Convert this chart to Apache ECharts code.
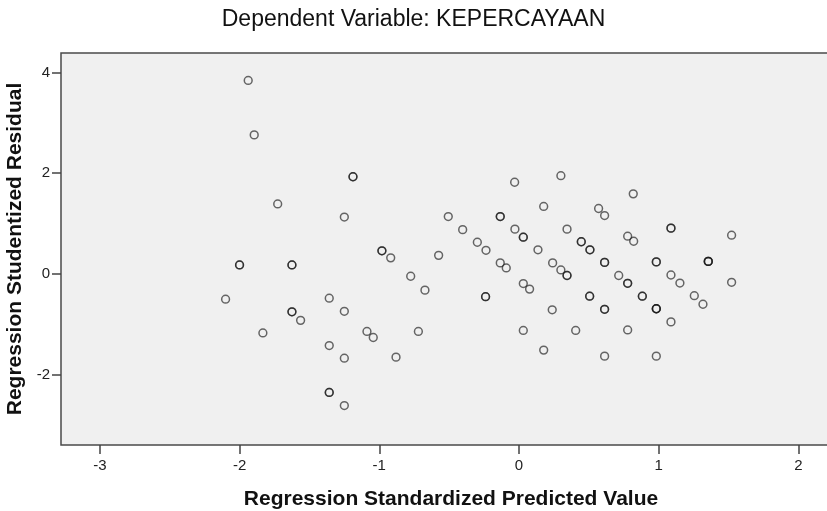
<!DOCTYPE html>
<html>
<head>
<meta charset="utf-8">
<script src="https://cdn.jsdelivr.net/npm/echarts@6/dist/echarts.min.js"></script>
<style>
html,body{margin:0;padding:0;background:#fff;overflow:hidden;}
#chart{width:827px;height:511px;}
</style>
</head>
<body>
<div id="chart"></div>
<script>
// Regression Standardized Predicted Value (x) and Studentized Residual (y); repeated entries = overlapping cases
const predicted = [
  -1.938, -1.895, -1.188, -1.188, -1.727, -1.25, -0.981, -0.981, -0.918,
  -2.0, -2.0, -1.625, -1.625, -0.775, -2.10, -1.625, -1.625, -1.563, -1.833,
  -1.358, -1.25, -1.088, -1.043, -1.358, -1.25, -0.88, -1.358, -1.358, -1.25,
  -0.72, -0.673, -0.575,
  -0.031, 0.30, 0.818, -0.506, -0.134, -0.134, 0.177, 0.57, 0.613,
  -0.403, -0.298, -0.236, -0.029, 0.031, 0.031, 0.344, 0.446, 0.446,
  0.508, 0.508, 1.088, 1.088, 0.778, 0.821, 1.522, 0.136,
  -0.134, -0.091, 0.241, 0.30, 0.344, 0.344, 0.613, 0.613, 0.983, 0.983,
  1.355, 1.355, 1.355, 0.714, 1.088,
  -0.239, -0.239, 0.031, 0.076, 0.031, 0.238, 0.177, 0.406,
  0.506, 0.506, 0.613, 0.613, 0.613, 0.778, 0.778, 0.778,
  0.883, 0.883, 0.983, 0.983, 0.983, 0.983, 1.152, 1.088, 1.255, 1.317, 1.522
];
const residual = [
  3.84, 2.76, 1.93, 1.93, 1.39, 1.13, 0.46, 0.46, 0.32,
  0.18, 0.18, 0.18, 0.18, -0.045, -0.50, -0.75, -0.75, -0.92, -1.17,
  -0.48, -0.74, -1.14, -1.26, -1.42, -1.67, -1.65, -2.35, -2.35, -2.61,
  -1.14, -0.32, 0.37,
  1.82, 1.95, 1.59, 1.14, 1.14, 1.14, 1.34, 1.30, 1.16,
  0.88, 0.63, 0.47, 0.89, 0.73, 0.73, 0.89, 0.64, 0.64,
  0.48, 0.48, 0.91, 0.91, 0.75, 0.65, 0.77, 0.48,
  0.22, 0.12, 0.22, 0.08, -0.03, -0.03, 0.23, 0.23, 0.24, 0.24,
  0.25, 0.25, 0.25, -0.03, -0.02,
  -0.45, -0.45, -0.19, -0.30, -1.12, -0.71, -1.51, -1.12,
  -0.44, -0.44, -0.70, -0.70, -1.63, -0.185, -0.185, -1.11,
  -0.44, -0.44, -0.69, -0.69, -0.69, -1.63, -0.18, -0.95, -0.43, -0.60, -0.165
];
const xTicks = [-3, -2, -1, 0, 1, 2];
const yTicks = [-2, 0, 2, 4];

const points = predicted.map((v, i) => [v, residual[i]]);
const font = 'Arial, "Liberation Sans", sans-serif';

const chart = echarts.init(document.getElementById('chart'));
chart.setOption({
  animation: false,
  title: {
    text: 'Dependent Variable: KEPERCAYAAN',
    left: 'center',
    top: 3,
    textStyle: { fontFamily: font, fontSize: 23, fontWeight: 'normal', color: '#111' }
  },
  grid: {
    left: 61, top: 53, width: 780, height: 392,
    outerBoundsMode: 'none', containLabel: false,
    show: true, backgroundColor: '#f0f0f0', borderColor: '#4a4a4a', borderWidth: 1.5
  },
  xAxis: {
    type: 'value', min: -3.278, max: 2.305,
    name: 'Regression Standardized Predicted Value',
    nameLocation: 'middle', nameGap: 44,
    nameTextStyle: { fontFamily: font, fontSize: 21, fontWeight: 'bold', color: '#111' },
    axisLine: { show: false, onZero: false },
    splitLine: { show: false },
    axisTick: { show: true, customValues: xTicks, length: 9, lineStyle: { color: '#444', width: 1.5 } },
    axisLabel: { customValues: xTicks, margin: 13, fontFamily: font, fontSize: 15, color: '#222' }
  },
  yAxis: {
    type: 'value', min: -3.393, max: 4.385,
    name: 'Regression Studentized Residual',
    nameLocation: 'middle', nameGap: 34,
    nameTextStyle: { fontFamily: font, fontSize: 21, fontWeight: 'bold', color: '#111' },
    axisLine: { show: false, onZero: false },
    splitLine: { show: false },
    axisTick: { show: true, customValues: yTicks, length: 9, lineStyle: { color: '#444', width: 1.5 } },
    axisLabel: { customValues: yTicks, margin: 11, fontFamily: font, fontSize: 15, color: '#222' }
  },
  series: [{
    type: 'scatter',
    data: points,
    symbol: 'circle',
    symbolSize: 7.8,
    itemStyle: { color: 'rgba(0,0,0,0)', borderColor: 'rgba(20,20,20,0.8)', borderWidth: 1.5 },
    emphasis: { disabled: true }
  }]
});
</script>
</body>
</html>
